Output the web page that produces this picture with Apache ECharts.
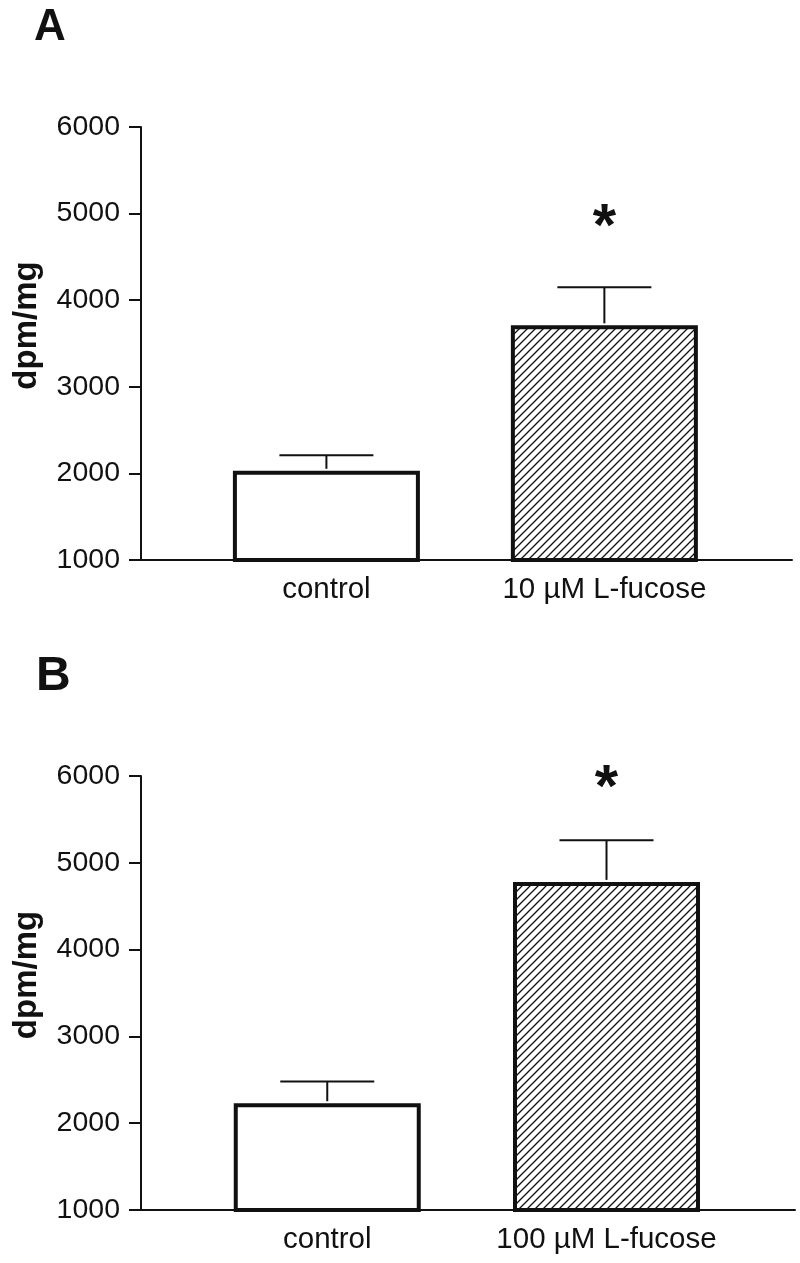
<!DOCTYPE html>
<html lang="en">

<head>
    <meta charset="UTF-8">
    <title>dpm/mg L-fucose</title>
    <script src="https://cdn.jsdelivr.net/npm/echarts@6/dist/echarts.min.js"></script>
    <style>
        html, body { margin: 0; padding: 0; background: #fff; }
        #main { width: 800px; height: 1263px; }
    </style>
</head>

<body>
    <div id="main"></div>
    <script>
        // data
        var positions = [1, 2];
        var categoriesA = ['control', '10 µM L-fucose'];
        var categoriesB = ['control', '100 µM L-fucose'];
        var meansA = [2030, 3710];
        var errTopA = [2210, 4150];
        var meansB = [2230, 4780];
        var errTopB = [2480, 5260];
        var starA = [2, 4830];
        var starB = [2, 5850];
        var yTicks = [1000, 2000, 3000, 4000, 5000, 6000];

        var FONT = '"Liberation Sans", Arial, sans-serif';
        var INK = '#111';

        // hatch fill for the treated bars
        var hatch = document.createElement('canvas');
        hatch.width = 8;
        hatch.height = 8;
        var hc = hatch.getContext('2d');
        hc.strokeStyle = '#111';
        hc.lineWidth = 1.3;
        hc.beginPath();
        hc.moveTo(-1, 9); hc.lineTo(9, -1);
        hc.moveTo(-1, 1); hc.lineTo(1, -1);
        hc.moveTo(7, 9); hc.lineTo(9, 7);
        hc.stroke();

        function barData(means) {
            return means.map(function (v, i) {
                return {
                    value: [positions[i], v],
                    itemStyle: { color: i === 0 ? '#fff' : { image: hatch, repeat: 'repeat' } }
                };
            });
        }

        function errData(means, tops) {
            return means.map(function (v, i) { return [positions[i], v, tops[i]]; });
        }

        function renderErr(params, api) {
            var lo = api.coord([api.value(0), api.value(1)]);
            var hi = api.coord([api.value(0), api.value(2)]);
            var half = 47;
            var st = { stroke: INK, lineWidth: 2 };
            return {
                type: 'group',
                children: [
                    { type: 'line', shape: { x1: lo[0], y1: lo[1] - 2, x2: hi[0], y2: hi[1] }, style: st },
                    { type: 'line', shape: { x1: hi[0] - half, y1: hi[1], x2: hi[0] + half, y2: hi[1] }, style: st }
                ]
            };
        }

        function renderStar(params, api) {
            var p = api.coord([api.value(0), api.value(1)]);
            return {
                type: 'text',
                style: {
                    text: '*', x: p[0], y: p[1], align: 'center', verticalAlign: 'middle',
                    font: 'bold 60px ' + FONT, fill: INK
                }
            };
        }

        function xAxisFor(gridIndex, cats) {
            return {
                type: 'value',
                gridIndex: gridIndex,
                min: 0.333,
                max: 2.675,
                axisLine: { show: true, onZero: false, lineStyle: { color: INK, width: 2 } },
                axisTick: { show: false },
                splitLine: { show: false },
                axisLabel: {
                    customValues: positions,
                    margin: 15,
                    fontSize: 29.5,
                    fontFamily: FONT,
                    color: INK,
                    formatter: function (v) {
                        var i = positions.indexOf(v);
                        return i >= 0 ? cats[i] : '';
                    }
                }
            };
        }

        function yAxisFor(gridIndex) {
            return {
                type: 'value',
                gridIndex: gridIndex,
                min: yTicks[0],
                max: yTicks[yTicks.length - 1],
                interval: 1000,
                name: 'dpm/mg',
                nameLocation: 'middle',
                nameGap: 98,
                nameTextStyle: { fontSize: 33, fontWeight: 'bold', fontFamily: FONT, color: INK, padding: [0, 0, 0, 36] },
                axisLine: { show: true, lineStyle: { color: INK, width: 2 } },
                axisTick: { show: true, length: 12, lineStyle: { color: INK, width: 2 } },
                splitLine: { show: false },
                axisLabel: {
                    margin: 21, fontSize: 28.5, fontFamily: FONT, color: INK,
                    formatter: function (v) { return String(v); }
                }
            };
        }

        function barSeries(idx, means) {
            return {
                type: 'bar',
                xAxisIndex: idx,
                yAxisIndex: idx,
                barWidth: 187,
                data: barData(means),
                itemStyle: { borderColor: INK, borderWidth: 4 },
                silent: true,
                z: 2
            };
        }

        var chart = echarts.init(document.getElementById('main'));
        chart.setOption({
            animation: false,
            backgroundColor: '#fff',
            title: [
                { text: 'A', left: 29, top: 1, textStyle: { fontSize: 44, fontWeight: 'bold', fontFamily: FONT, color: INK } },
                { text: 'B', left: 31, top: 648, textStyle: { fontSize: 48, fontWeight: 'bold', fontFamily: FONT, color: INK } }
            ],
            grid: [
                { left: 141, right: 8, top: 127, bottom: 703 },
                { left: 141, right: 5, top: 776, bottom: 53 }
            ],
            xAxis: [xAxisFor(0, categoriesA), xAxisFor(1, categoriesB)],
            yAxis: [yAxisFor(0), yAxisFor(1)],
            series: [
                barSeries(0, meansA),
                { type: 'custom', xAxisIndex: 0, yAxisIndex: 0, renderItem: renderErr, data: errData(meansA, errTopA), z: 3 },
                { type: 'custom', xAxisIndex: 0, yAxisIndex: 0, renderItem: renderStar, data: [starA], z: 3 },
                barSeries(1, meansB),
                { type: 'custom', xAxisIndex: 1, yAxisIndex: 1, renderItem: renderErr, data: errData(meansB, errTopB), z: 3 },
                { type: 'custom', xAxisIndex: 1, yAxisIndex: 1, renderItem: renderStar, data: [starB], z: 3 }
            ]
        });
    </script>
</body>

</html>
